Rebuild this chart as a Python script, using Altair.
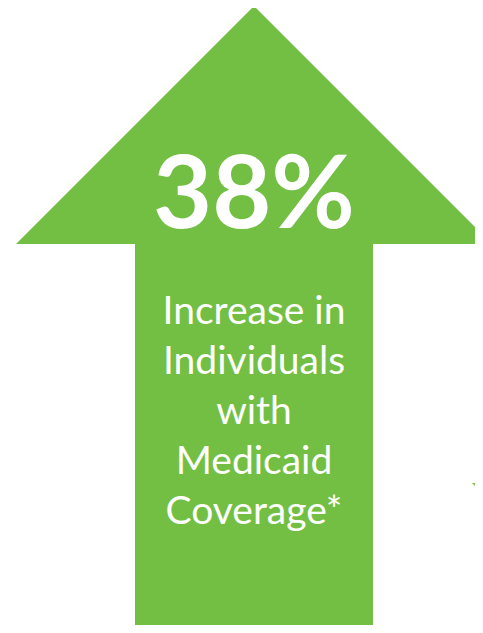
import altair as alt
import pandas as pd

GREEN = "#72BF44"

# Arrow geometry (pixel coordinates of the infographic, y downward)
head_x = [16, 254, 492]
head_y = [244, 6, 244]
head_base = 244
shaft_x = [135]
shaft_x2 = [373]
shaft_y = [244]
shaft_y2 = [640]
tri_x = [472, 483, 495]
tri_y = [483, 494, 506]
tri_top = 483

big_label = ["38%"]
big_y = [228]
lines = ["Increase in", "Individuals", "with", "Medicaid", "Coverage*"]
line_y = [324, 374, 424, 474, 524]
center_x = 254

xs = alt.Scale(domain=[0, 483], nice=False, zero=False)
ys = alt.Scale(domain=[0, 633], nice=False, zero=False, reverse=True)

head = alt.Chart(pd.DataFrame({"x": head_x, "y": head_y, "y2": [head_base] * 3})).mark_area(
    color=GREEN, clip=True, interpolate="linear"
).encode(
    x=alt.X("x:Q", scale=xs, axis=None),
    y=alt.Y("y:Q", scale=ys, axis=None),
    y2="y2:Q",
)

shaft = alt.Chart(pd.DataFrame({"x": shaft_x, "x2": shaft_x2, "y": shaft_y, "y2": shaft_y2})).mark_rect(
    color=GREEN, clip=True
).encode(
    x=alt.X("x:Q", scale=xs, axis=None),
    x2="x2:Q",
    y=alt.Y("y:Q", scale=ys, axis=None),
    y2="y2:Q",
)

tri = alt.Chart(pd.DataFrame({"x": tri_x, "y": tri_y, "y2": [tri_top] * 3})).mark_area(
    color=GREEN, clip=True
).encode(
    x=alt.X("x:Q", scale=xs, axis=None),
    y=alt.Y("y:Q", scale=ys, axis=None),
    y2="y2:Q",
)

big = alt.Chart(pd.DataFrame({"t": big_label, "x": [center_x], "y": big_y})).mark_text(
    color="white", font="Lato", fontWeight="bold", fontSize=102, baseline="alphabetic", align="center"
).encode(
    x=alt.X("x:Q", scale=xs, axis=None),
    y=alt.Y("y:Q", scale=ys, axis=None),
    text="t:N",
)

small = alt.Chart(pd.DataFrame({"t": lines, "x": [center_x] * len(lines), "y": line_y})).mark_text(
    color="white", font="Lato", fontSize=39, baseline="alphabetic", align="center"
).encode(
    x=alt.X("x:Q", scale=xs, axis=None),
    y=alt.Y("y:Q", scale=ys, axis=None),
    text="t:N",
)

chart = alt.layer(head, shaft, tri, big, small).properties(
    width=483, height=633,
    padding={"left": -8, "top": -8, "right": -8, "bottom": -8},
    autosize=alt.AutoSizeParams(type="none"),
).configure_view(stroke=None)

chart.save("out.html", embed_options={"renderer": "svg", "actions": False})
